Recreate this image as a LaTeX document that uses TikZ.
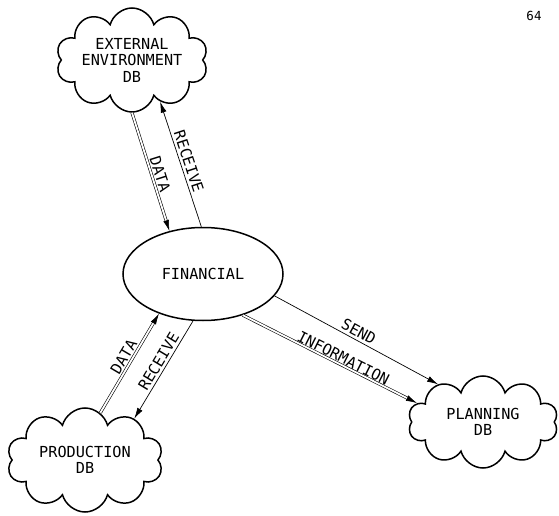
\documentclass[tikz,border=0pt]{standalone}
\usepackage{fontspec}
\setmonofont{DejaVu Sans Mono}
\usetikzlibrary{shapes.geometric,shapes.symbols,arrows.meta}
\begin{document}
\begin{tikzpicture}[x=1pt,y=-1pt,
  every node/.style={font=\ttfamily\fontsize{15.2}{16.5}\selectfont},
  db/.style={cloud, draw, line width=1.5pt, cloud puffs=10, cloud ignores aspect,
             align=center, inner sep=0pt},
  proc/.style={ellipse, draw, line width=1.5pt, minimum width=160pt, minimum height=93pt},
  flow/.style={line width=0.7pt, -{Latex[length=11pt,width=6pt]}},
  dflow/.style={flow, double, double distance=1.8pt, line width=0.6pt},
  lbl/.style={sloped, above, inner sep=2.5pt}
]
\useasboundingbox (0,0) rectangle (559,516);

% page number
\node[font=\ttfamily\fontsize{12.5}{13}\selectfont] (page) at (534,16) {64};

% central process and the three data bases
\node[proc] (fin) at (203,274) {FINANCIAL};
\node[db, minimum width=152pt, minimum height=104pt] (ext) at (132,60)
  {EXTERNAL\\ENVIRONMENT\\DB};
\node[db, minimum width=156pt, minimum height=104pt] (prod) at (85,460)
  {PRODUCTION\\DB};
\node[db, minimum width=150pt, minimum height=92pt] (plan) at (483,422)
  {PLANNING\\DB};

% external environment exchange
\draw[dflow] (ext.270) -- node[lbl, pos=0.54] {DATA} (fin.128);
\draw[flow] (fin.92) -- node[lbl, pos=0.5] {RECEIVE} (ext.304);

% production exchange
\draw[dflow] (prod.72) -- node[lbl, pos=0.52] {DATA} (fin.222);
\draw[flow] (fin.258) -- node[lbl, pos=0.46] {RECEIVE} (prod.40);

% planning exchange
\draw[flow] (fin.343) -- node[lbl, pos=0.49] {SEND} (plan.140);
\draw[dflow] (fin.314) -- node[lbl, pos=0.56, inner sep=1pt] {INFORMATION} (plan.164);
\end{tikzpicture}
\end{document}
